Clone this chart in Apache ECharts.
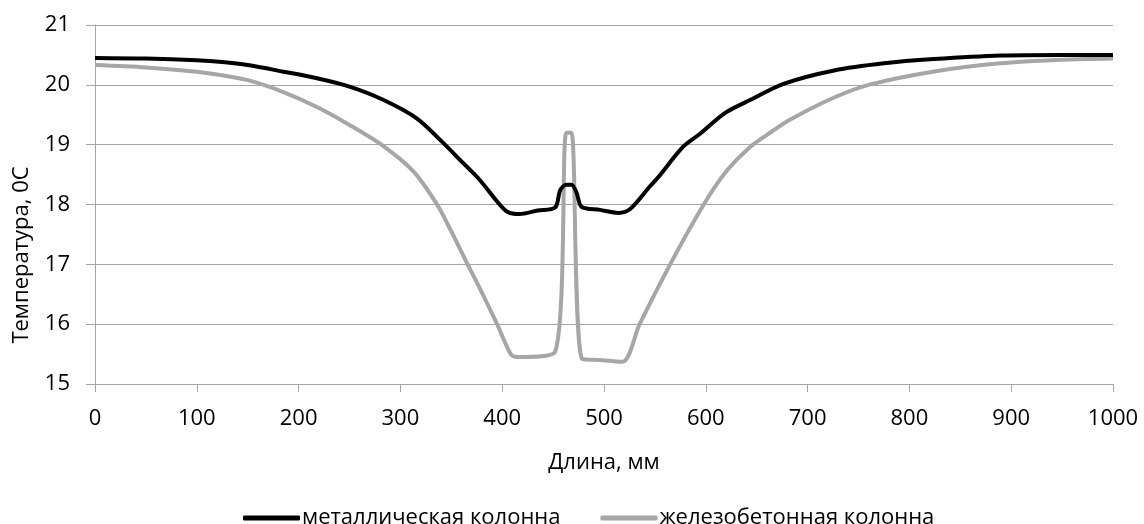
<!DOCTYPE html>
<html>
<head>
<meta charset="utf-8">
<script src="https://cdn.jsdelivr.net/npm/echarts@6/dist/echarts.min.js"></script>
<style>
  html, body { margin: 0; padding: 0; background: #fff; }
  #chart { width: 1144px; height: 524px; }
</style>
</head>
<body>
<div id="chart"></div>
<script>
// длина, мм / температура для металлической колонны
var mmMetal = [0, 50, 100, 125, 150, 185, 218, 250, 283, 316, 342, 360, 378, 395, 405, 417, 435, 452, 457, 463, 468, 473, 478, 496, 514, 526, 545, 553, 578, 595, 619, 644, 677, 726, 775, 824, 890, 950, 1000];
var tMetal = [20.45, 20.44, 20.41, 20.38, 20.33, 20.22, 20.11, 19.97, 19.75, 19.44, 19.03, 18.72, 18.41, 18.05, 17.88, 17.84, 17.9, 17.95, 18.24, 18.33, 18.33, 18.2, 17.96, 17.91, 17.86, 17.93, 18.3, 18.45, 18.97, 19.19, 19.53, 19.75, 20.02, 20.24, 20.36, 20.43, 20.49, 20.5, 20.5];

// железобетонная колонна
var mmConcrete = [0, 50, 100, 125, 152, 185, 218, 250, 283, 313, 336, 350, 366, 378, 395, 408, 414, 452, 463, 468, 478, 496, 518, 535, 565, 598, 620, 645, 665, 683, 725, 760, 823, 889, 950, 1000];
var tConcrete = [20.33, 20.29, 20.22, 20.16, 20.07, 19.88, 19.63, 19.33, 18.98, 18.55, 18.0, 17.55, 17.0, 16.6, 16.0, 15.51, 15.45, 15.54, 19.2, 19.2, 15.43, 15.4, 15.37, 16.0, 17.0, 18.0, 18.55, 18.98, 19.22, 19.42, 19.78, 20.0, 20.22, 20.36, 20.42, 20.44];

var seriesNames = ['металлическая колонна', 'железобетонная колонна'];
var yTitle = 'Температура, 0С';
var xTitle = 'Длина, мм';

function pairs(xs, ys) {
  var out = [];
  for (var i = 0; i < xs.length; i++) out.push([xs[i], ys[i]]);
  return out;
}

var chart = echarts.init(document.getElementById('chart'));
var font = 'Open Sans';
var fs = 22;

chart.setOption({
  animation: false,
  backgroundColor: '#fff',
  grid: { left: 95, right: 31, top: 25, bottom: 140 },
  legend: {
    top: 502,
    left: 238,
    itemWidth: 57,
    itemHeight: 5,
    itemGap: 40,
    icon: 'roundRect',
    textStyle: { fontFamily: font, fontSize: fs, color: '#000', padding: [0, 0, 0, -3] },
    data: seriesNames
  },
  graphic: [{
    type: 'text',
    x: 22,
    y: 255,
    rotation: Math.PI / 2,
    style: {
      text: yTitle,
      fontFamily: font,
      fontSize: fs,
      fill: '#000',
      align: 'center',
      verticalAlign: 'middle'
    }
  }],
  xAxis: {
    type: 'value',
    min: 0, max: 1000, interval: 100,
    name: xTitle,
    nameLocation: 'middle',
    nameGap: 68,
    nameTextStyle: { fontFamily: font, fontSize: fs, color: '#000' },
    axisLine: { lineStyle: { color: '#a6a6a6', width: 1 } },
    axisTick: { show: true, length: 8, lineStyle: { color: '#a6a6a6' } },
    axisLabel: {
      fontFamily: font, fontSize: fs, color: '#000', margin: 24,
      formatter: function (v) { return String(v); }
    },
    splitLine: { show: false }
  },
  yAxis: {
    type: 'value',
    min: 15, max: 21, interval: 1,
    axisLine: { show: true, lineStyle: { color: '#a6a6a6', width: 1 } },
    axisTick: { show: true, length: 9, lineStyle: { color: '#a6a6a6' } },
    axisLabel: { fontFamily: font, fontSize: fs, color: '#000', margin: 25 },
    splitLine: { lineStyle: { color: '#a6a6a6', width: 1 } }
  },
  series: [
    {
      name: seriesNames[0],
      type: 'line',
      showSymbol: false,
      smooth: 0.3,
      color: '#000',
      lineStyle: { color: '#000', width: 4 },
      data: pairs(mmMetal, tMetal),
      z: 3
    },
    {
      name: seriesNames[1],
      type: 'line',
      showSymbol: false,
      smooth: 0.3,
      color: '#a6a6a6',
      lineStyle: { color: '#a6a6a6', width: 4 },
      data: pairs(mmConcrete, tConcrete),
      z: 2
    }
  ]
});
</script>
</body>
</html>
